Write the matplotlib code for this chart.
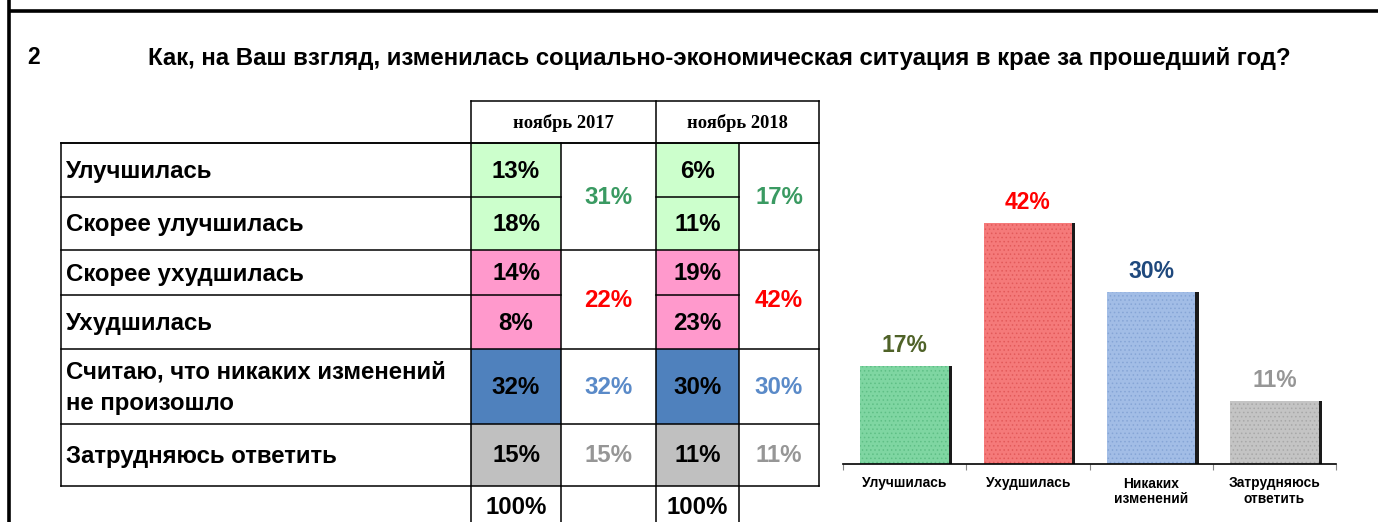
import matplotlib
matplotlib.use("Agg")
import matplotlib.pyplot as plt
from matplotlib.patches import Rectangle

# ---------------- data ----------------
question_no = "2"
title = "Как, на Ваш взгляд, изменилась социально-экономическая ситуация в крае за прошедший год?"
periods = ["ноябрь 2017", "ноябрь 2018"]
row_labels = ["Улучшилась", "Скорее улучшилась", "Скорее ухудшилась", "Ухудшилась",
              "Считаю, что никаких изменений\nне произошло", "Затрудняюсь ответить"]
values_2017 = [13, 18, 14, 8, 32, 15]
values_2018 = [6, 11, 19, 23, 30, 11]
groups = [(0, 2), (2, 4), (4, 5), (5, 6)]       # rows forming each summary group
totals_2017 = [31, 22, 32, 15]
totals_2018 = [17, 42, 30, 11]
column_sum = ["100%", "100%"]

bar_categories = ["Улучшилась", "Ухудшилась", "Никаких\nизменений", "Затрудняюсь\nответить"]
bar_values = totals_2018

# ---------------- styles ----------------
cell_colors = ["#ccffcc", "#ccffcc", "#ff99cc", "#ff99cc", "#4f81bd", "#c0c0c0"]
total_colors = ["#3a9a62", "#ff0000", "#5a8ac8", "#969696"]
bar_colors = ["#7fd6a2", "#f57a7a", "#a2bde6", "#c4c4c4"]
bar_hatch_colors = ["#5fbf86", "#e25a5a", "#86a5d6", "#a8a8a8"]
bar_label_colors = ["#4f6228", "#ff0000", "#1f497d", "#969696"]
SANS = "Liberation Sans"
SERIF = "Liberation Serif"

W, H = 1378, 522
fig = plt.figure(figsize=(W / 100, H / 100), dpi=100)
bg = fig.add_axes([0, 0, 1, 1])
bg.set_xlim(0, W)
bg.set_ylim(H, 0)
bg.axis("off")

# frame
bg.plot([9, 9], [0, H], color="black", lw=2.6, solid_capstyle="butt")
bg.plot([8, W], [10.5, 10.5], color="black", lw=2.6, solid_capstyle="butt")

# title
bg.text(27, 58, question_no, fontsize=16.5, fontweight="bold", family=SANS, va="center", ha="left")
bg.text(148, 58, title, fontsize=17.3, fontweight="bold", family=SANS, va="center", ha="left")

# table geometry (pixels)
xl, x1, x2, x3, x4, x5 = 61, 471, 561, 656, 739, 819
hy0, hy1 = 101, 143
row_edges = [143, 197, 250, 295, 349, 424, 486]
bottom = H
lw = 1.1
VAL_FS = 17.3
LAB_FS = 17.3

# header
for i, p in enumerate(periods):
    xa, xb = (x1, x3) if i == 0 else (x3, x5)
    bg.text((xa + xb) / 2, (hy0 + hy1) / 2 + 1, p, fontsize=13.3, fontweight="bold",
            family=SERIF, ha="center", va="center")

# cell fills
for r in range(len(row_labels)):
    ya, yb = row_edges[r], row_edges[r + 1]
    for xa, xb, vals in [(x1, x2, values_2017), (x3, x4, values_2018)]:
        bg.add_patch(Rectangle((xa, ya), xb - xa, yb - ya, facecolor=cell_colors[r],
                               edgecolor="none", zorder=1))
        bg.text((xa + xb) / 2, (ya + yb) / 2 + 1, f"{vals[r]}%", fontsize=VAL_FS,
                fontweight="bold", family=SANS, ha="center", va="center", zorder=3)
    bg.text(xl + 5, (ya + yb) / 2 + 1.5, row_labels[r], fontsize=LAB_FS, fontweight="bold",
            family=SANS, ha="left", va="center", linespacing=1.45, zorder=3)

# totals
for g, (a, b) in enumerate(groups):
    ya, yb = row_edges[a], row_edges[b]
    for xa, xb, tots in [(x2, x3, totals_2017), (x4, x5, totals_2018)]:
        bg.text((xa + xb) / 2, (ya + yb) / 2 + 1, f"{tots[g]}%", fontsize=VAL_FS,
                fontweight="bold", family=SANS, ha="center", va="center",
                color=total_colors[g], zorder=3)

# 100% row
for xa, xb, s in [(x1, x2, column_sum[0]), (x3, x4, column_sum[1])]:
    bg.text((xa + xb) / 2, 507, s, fontsize=VAL_FS, fontweight="bold", family=SANS,
            ha="center", va="center")

# grid lines
def hl(y, xa, xb):
    bg.plot([xa, xb], [y, y], color="black", lw=lw, zorder=4, solid_capstyle="projecting")

def vl(x, ya, yb):
    bg.plot([x, x], [ya, yb], color="black", lw=lw, zorder=4, solid_capstyle="projecting")

hl(hy0, x1, x5)
hl(hy1, xl, x5)
group_edges = sorted(set([row_edges[a] for a, b in groups] + [row_edges[-1]]))
for y in group_edges:
    hl(y, xl, x5)
for y in row_edges[1:-1]:
    if y not in group_edges:
        hl(y, xl, x2)
        hl(y, x3, x4)
vl(xl, hy1, row_edges[-1])
vl(x1, hy0, bottom)
vl(x2, hy1, bottom)
vl(x3, hy0, bottom)
vl(x4, hy1, bottom)
vl(x5, hy0, row_edges[-1])

# ---------------- bar chart ----------------
ax_left, ax_right, base_y, top_y = 843, 1336, 464, 180
ax = fig.add_axes([ax_left / W, 1 - base_y / H, (ax_right - ax_left) / W, (base_y - top_y) / H])
plt.rcParams["hatch.linewidth"] = 0.6
xs = list(range(len(bar_categories)))
bw = 0.72
ax.bar([x + 0.025 for x in xs], bar_values, width=bw, color="#1a1a1a", zorder=1)
bars = ax.bar(xs, bar_values, width=bw, color=bar_colors, zorder=2, linewidth=0)
for b, hc in zip(bars, bar_hatch_colors):
    b.set_hatch("....")
    b.set_edgecolor(hc)
ax.set_xlim(-0.5, len(xs) - 0.5)
ax.set_ylim(0, (base_y - top_y) / 5.74)
for x, v, c in zip(xs, bar_values, bar_label_colors):
    ax.text(x, v + 3.6, f"{v}%", ha="center", va="center", fontsize=16.5, fontweight="bold",
            family=SANS, color=c)
for s in ["top", "right", "left"]:
    ax.spines[s].set_visible(False)
ax.spines["bottom"].set_linewidth(1.2)
ax.set_yticks([])
ax.set_xticks([x - 0.5 for x in range(len(xs) + 1)], minor=False)
ax.set_xticklabels([])
ax.tick_params(axis="x", length=4, width=0.8, color="#888888", direction="out")
ax.set_xticks(xs, minor=True)
ax.set_xticklabels(bar_categories, minor=True, fontsize=9.9, fontweight="bold", family=SANS,
                   linespacing=1.15)
ax.tick_params(axis="x", which="minor", length=0, pad=9)

fig.savefig("out.png", dpi=100)
